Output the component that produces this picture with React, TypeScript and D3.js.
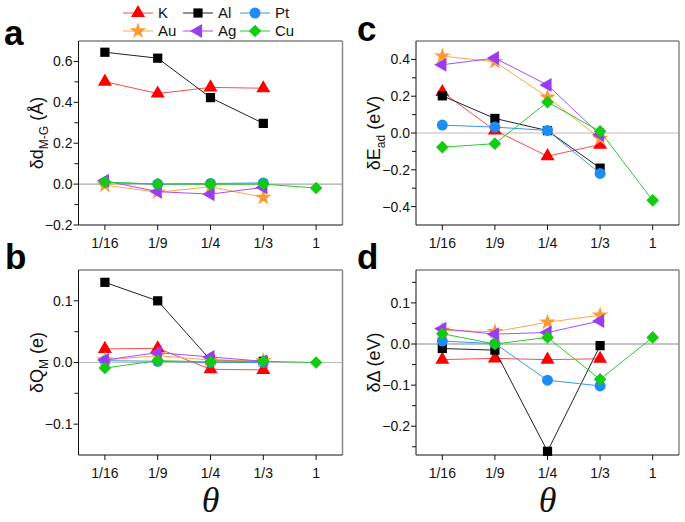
import React from "react";
import * as d3 from "d3";

const categories = ["1/16", "1/9", "1/4", "1/3", "1"];
const seriesNames = ["K", "Al", "Pt", "Au", "Ag", "Cu"];

type V = number | null;

// panel a: δd_M-G (Å)
const aK: V[] = [0.501, 0.443, 0.473, 0.469, null];
const aAl: V[] = [0.645, 0.616, 0.423, 0.297, null];
const aPt: V[] = [0.008, 0.0, 0.003, 0.006, null];
const aAu: V[] = [-0.005, -0.04, -0.013, -0.065, null];
const aAg: V[] = [0.016, -0.037, -0.049, -0.016, null];
const aCu: V[] = [0.01, 0.0, -0.001, 0.0, -0.019];

// panel b: δQ_M (e)
const bK: V[] = [0.022, 0.023, -0.011, -0.012, null];
const bAl: V[] = [0.13, 0.1, 0.004, 0.002, null];
const bPt: V[] = [0.003, 0.002, 0.0, 0.0, null];
const bAu: V[] = [0.004, 0.011, 0.004, 0.003, null];
const bAg: V[] = [0.004, 0.016, 0.009, 0.002, null];
const bCu: V[] = [-0.009, 0.003, 0.001, 0.002, 0.0];

// panel c: δE_ad (eV)
const cK: V[] = [0.223, 0.014, -0.126, -0.063, null];
const cAl: V[] = [0.202, 0.079, 0.013, -0.191, null];
const cPt: V[] = [0.043, 0.032, 0.014, -0.22, null];
const cAu: V[] = [0.418, 0.387, 0.195, -0.03, null];
const cAg: V[] = [0.371, 0.407, 0.261, -0.01, null];
const cCu: V[] = [-0.077, -0.058, 0.168, 0.009, -0.366];

// panel d: δΔ (eV)
const dK: V[] = [-0.038, -0.035, -0.038, -0.036, null];
const dAl: V[] = [-0.011, -0.015, -0.261, -0.004, null];
const dPt: V[] = [0.007, 0.001, -0.088, -0.102, null];
const dAu: V[] = [0.033, 0.03, 0.053, 0.07, null];
const dAg: V[] = [0.037, 0.024, 0.028, 0.056, null];
const dCu: V[] = [0.025, 0.0, 0.016, -0.086, 0.016];

const aMajor = [-0.2, 0.0, 0.2, 0.4, 0.6];
const aMinor = [-0.1, 0.1, 0.3, 0.5];
const bMajor = [-0.1, 0.0, 0.1];
const bMinor = [-0.05, 0.05];
const cMajor = [-0.4, -0.2, 0.0, 0.2, 0.4];
const cMinor = [-0.3, -0.1, 0.1, 0.3];
const dMajor = [-0.2, -0.1, 0.0, 0.1];
const dMinor = [-0.25, -0.15, -0.05, 0.05, 0.15];

const markerColor: Record<string, string> = {
  K: "#ff0000",
  Al: "#000000",
  Pt: "#1e8cf5",
  Au: "#ff9a33",
  Ag: "#9b3cf5",
  Cu: "#11cc11",
};
const lineColor: Record<string, string> = {
  K: "#ff4a4a",
  Al: "#222222",
  Pt: "#3b96f0",
  Au: "#ffa550",
  Ag: "#a550f5",
  Cu: "#2ec82e",
};

const FONT = "'Liberation Sans', Arial, sans-serif";

function symbolPath(name: string): { d: string; rot: number } {
  const s = d3.symbol();
  switch (name) {
    case "K":
      return { d: s.type(d3.symbolTriangle).size(85)()!, rot: 0 };
    case "Al":
      return { d: s.type(d3.symbolSquare).size(85)()!, rot: 0 };
    case "Pt":
      return { d: s.type(d3.symbolCircle).size(95)()!, rot: 0 };
    case "Au":
      return { d: s.type(d3.symbolStar).size(85)()!, rot: 0 };
    case "Ag":
      return { d: s.type(d3.symbolTriangle).size(85)()!, rot: -90 };
    default:
      return { d: s.type(d3.symbolSquare).size(80)()!, rot: 45 };
  }
}

function Marker({ name, x, y }: { name: string; x: number; y: number }) {
  const { d, rot } = symbolPath(name);
  return (
    <path
      d={d}
      transform={`translate(${x},${y}) rotate(${rot})`}
      fill={markerColor[name]}
      stroke="none"
    />
  );
}

type PanelProps = {
  left: number;
  top: number;
  width: number;
  height: number;
  domain: [number, number];
  major: number[];
  minor: number[];
  series: V[][];
  letter: string;
  letterX: number;
  letterY: number;
  label: React.ReactNode;
  zeroColor: string;
  showTheta: boolean;
};

function Panel(p: PanelProps) {
  const x = d3
    .scalePoint<string>()
    .domain(categories)
    .range([p.left, p.left + p.width])
    .padding(0.5);
  const y = d3
    .scaleLinear()
    .domain(p.domain)
    .range([p.top + p.height, p.top]);
  const bottom = p.top + p.height;
  const right = p.left + p.width;
  const cx = p.left + p.width / 2;
  return (
    <g>
      <text
        x={p.letterX}
        y={p.letterY}
        fontFamily={FONT}
        fontWeight="bold"
        fontSize={35}
        fill="#000"
      >
        {p.letter}
      </text>
      <line x1={p.left} x2={right} y1={y(0)} y2={y(0)} stroke={p.zeroColor} strokeWidth={1.2} />
      <line x1={p.left} x2={right} y1={p.top} y2={p.top} stroke="#444" strokeWidth={1} />
      <line x1={right} x2={right} y1={p.top} y2={bottom} stroke="#888" strokeWidth={1.5} />
      <line x1={p.left} x2={p.left} y1={p.top} y2={bottom} stroke="#111" strokeWidth={1} />
      <line x1={p.left} x2={right} y1={bottom} y2={bottom} stroke="#111" strokeWidth={1} />
      {p.major.map((t) => (
        <g key={"M" + t}>
          <line x1={p.left - 5} x2={p.left} y1={y(t)} y2={y(t)} stroke="#111" />
          <text
            x={p.left - 6}
            y={y(t)}
            dy="0.35em"
            textAnchor="end"
            fontFamily={FONT}
            fontSize={14}
            fill="#111"
          >
            {d3.format(".1f")(t)}
          </text>
        </g>
      ))}
      {p.minor.map((t) => (
        <line key={"m" + t} x1={p.left - 4} x2={p.left} y1={y(t)} y2={y(t)} stroke="#111" />
      ))}
      {categories.map((c) => (
        <g key={c}>
          <line x1={x(c)} x2={x(c)} y1={bottom} y2={bottom + 5} stroke="#111" />
          <text
            x={x(c)}
            y={bottom + 23}
            textAnchor="middle"
            fontFamily={FONT}
            fontSize={14}
            fill="#111"
          >
            {c}
          </text>
        </g>
      ))}
      <text
        transform={`translate(${p.left - 36},${p.top + p.height / 2}) rotate(-90)`}
        textAnchor="middle"
        fontFamily={FONT}
        fontSize={18}
        fill="#111"
      >
        {p.label}
      </text>
      {p.series.map((vals, si) => {
        const name = seriesNames[si];
        const pts = vals
          .map((v, i) => ({ v, c: categories[i] }))
          .filter((d) => d.v !== null) as { v: number; c: string }[];
        const line = d3
          .line<{ v: number; c: string }>()
          .x((d) => x(d.c)!)
          .y((d) => y(d.v));
        return (
          <g key={name}>
            <path d={line(pts)!} fill="none" stroke={lineColor[name]} strokeWidth={1} />
            {pts.map((d) => (
              <Marker key={d.c} name={name} x={x(d.c)!} y={y(d.v)} />
            ))}
          </g>
        );
      })}
      {p.showTheta && (
        <text
          x={cx}
          y={512}
          textAnchor="middle"
          fontFamily="'Liberation Serif', 'DejaVu Serif', serif"
          fontStyle="italic"
          fontSize={36}
          fill="#111"
        >
          θ
        </text>
      )}
    </g>
  );
}

const legendCols = [
  ["K", "Au"],
  ["Al", "Ag"],
  ["Pt", "Cu"],
];

export default function App() {
  const W = 685;
  const H = 522;
  const colX = [123, 183, 240];
  const rowY = [13, 31];
  return (
    <svg
      width={W}
      height={H}
      style={{ position: "absolute", left: 0, top: 0, background: "#fff" }}
    >
      <rect width={W} height={H} fill="#fff" />
      <Panel
        left={78.5}
        top={41}
        width={264}
        height={184}
        domain={[-0.2, 0.7]}
        major={aMajor}
        minor={aMinor}
        series={[aK, aAl, aPt, aAu, aAg, aCu]}
        letter="a"
        letterX={4}
        letterY={45}
        zeroColor="#aaa"
        showTheta={false}
        label={
          <>
            <tspan>δd</tspan>
            <tspan fontSize={12} dy={5}>M-G</tspan>
            <tspan dy={-5}> (Å)</tspan>
          </>
        }
      />
      <Panel
        left={78.5}
        top={270}
        width={264}
        height={185}
        domain={[-0.15, 0.15]}
        major={bMajor}
        minor={bMinor}
        series={[bK, bAl, bPt, bAu, bAg, bCu]}
        letter="b"
        letterX={5}
        letterY={269}
        zeroColor="#bbb"
        showTheta={true}
        label={
          <>
            <tspan>δQ</tspan>
            <tspan fontSize={12} dy={5}>M</tspan>
            <tspan dy={-5}> (e)</tspan>
          </>
        }
      />
      <Panel
        left={416}
        top={41}
        width={263}
        height={184}
        domain={[-0.5, 0.5]}
        major={cMajor}
        minor={cMinor}
        series={[cK, cAl, cPt, cAu, cAg, cCu]}
        letter="c"
        letterX={357}
        letterY={41}
        zeroColor="#bbb"
        showTheta={false}
        label={
          <>
            <tspan>δE</tspan>
            <tspan fontSize={12} dy={5}>ad</tspan>
            <tspan dy={-5}> (eV)</tspan>
          </>
        }
      />
      <Panel
        left={416}
        top={270}
        width={263}
        height={185}
        domain={[-0.27, 0.18]}
        major={dMajor}
        minor={dMinor}
        series={[dK, dAl, dPt, dAu, dAg, dCu]}
        letter="d"
        letterX={357}
        letterY={269}
        zeroColor="#888"
        showTheta={true}
        label={<tspan>δΔ (eV)</tspan>}
      />
      {legendCols.map((col, ci) =>
        col.map((name, ri) => (
          <g key={name}>
            <line
              x1={colX[ci]}
              x2={colX[ci] + 30}
              y1={rowY[ri]}
              y2={rowY[ri]}
              stroke={lineColor[name]}
              strokeWidth={1}
            />
            <Marker name={name} x={colX[ci] + 15} y={rowY[ri]} />
            <text
              x={colX[ci] + 35}
              y={rowY[ri]}
              dy="0.36em"
              fontFamily={FONT}
              fontSize={15}
              fill="#111"
            >
              {name}
            </text>
          </g>
        ))
      )}
    </svg>
  );
}
